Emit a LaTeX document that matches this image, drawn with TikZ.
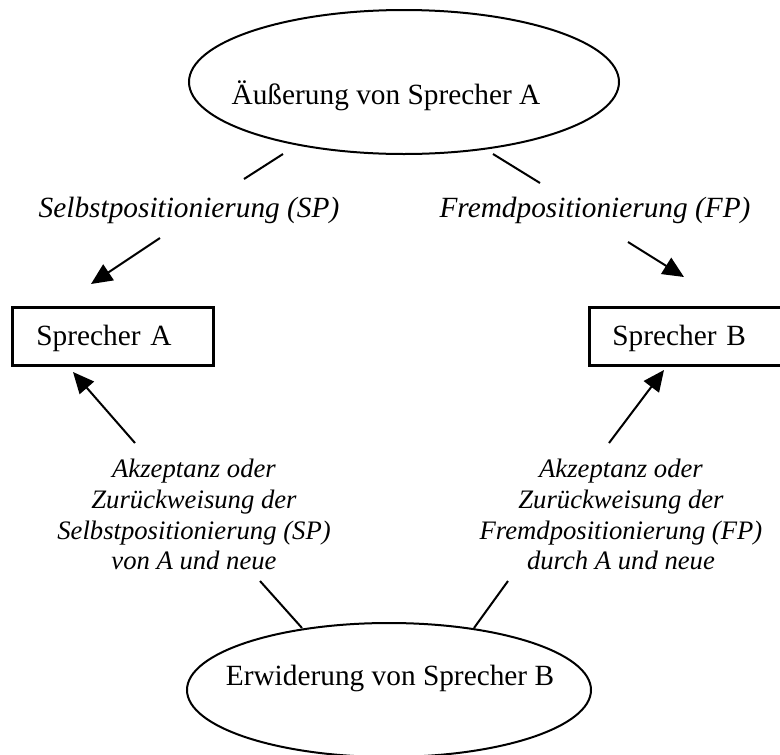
\documentclass[tikz,border=0pt]{standalone}
\usepackage{fontspec}
\setmainfont{Liberation Serif}
\usetikzlibrary{shapes.geometric,arrows.meta}

\tikzset{
	bubble/.style={draw, ellipse, line width=0.9pt, inner sep=0pt},
	speakerbox/.style={draw, line width=1.35pt, minimum width=90pt, minimum height=26.1pt,
		inner xsep=9.5pt, text width=69pt, text height=9.5pt, text depth=1.4pt, align=left},
	poslabel/.style={inner sep=0pt, font=\fontsize{13.2}{15.2}\selectfont\itshape},
	acclabel/.style={inner sep=0pt, align=center, font=\fontsize{12}{13.8}\selectfont\itshape},
	link/.style={line width=0.9pt},
	pointer/.style={line width=0.9pt, -{Triangle[length=9.5pt,width=8.5pt]}}
}

\begin{document}
\begin{tikzpicture}[x=0.45pt, y=-0.45pt, font=\fontsize{13.2}{15.2}\selectfont]
		%%%%% START %%%%%
		
		\useasboundingbox (0, 0) rectangle (780, 755);
		\clip (0, 0) rectangle (780, 755);
		
		% the two utterances
		\node[bubble, minimum width=193.5pt, minimum height=64.8pt] (utter) at (404, 82) {};
		\node[anchor=base, inner sep=0pt] (uttertext) at (386, 104) {Äußerung von Sprecher A};
		\node[bubble, minimum width=181.8pt, minimum height=60.3pt] (reply) at (389, 690) {};
		\node[anchor=base, inner sep=0pt] (replytext) at (390, 685) {Erwiderung von Sprecher B};
		
		% the speakers
		\node[speakerbox] (spka) at (113, 336) {Sprecher A};
		\node[speakerbox] (spkb) at (689, 336) {Sprecher B};
		
		% positioning labels
		\node[poslabel, anchor=base] (sp) at (189, 217) {Selbstpositionierung (SP)};
		\node[poslabel, anchor=base] (fp) at (595, 217) {Fremdpositionierung (FP)};
		\node[acclabel, anchor=north] (accsp) at (194, 459)
			{Akzeptanz oder\\Zurückweisung der\\Selbstpositionierung (SP)\\von A und neue};
		\node[acclabel, anchor=north] (accfp) at (621, 459)
			{Akzeptanz oder\\Zurückweisung der\\Fremdpositionierung (FP)\\durch A und neue};
		
		% loose ends of the connectors
		\coordinate (utter-sp) at (283, 154);
		\coordinate (sp-in) at (244, 179);
		\coordinate (utter-fp) at (493, 154);
		\coordinate (fp-in) at (540, 183);
		\coordinate (sp-out) at (160, 238);
		\coordinate (spka-in) at (91, 284);
		\coordinate (fp-out) at (628, 242);
		\coordinate (spkb-in) at (684, 277);
		\coordinate (accsp-out) at (135, 443);
		\coordinate (spka-low) at (73, 372);
		\coordinate (accfp-out) at (609, 443);
		\coordinate (spkb-low) at (664, 370);
		\coordinate (reply-sp) at (302, 628);
		\coordinate (accsp-in) at (260, 581);
		\coordinate (reply-fp) at (474, 628);
		\coordinate (accfp-in) at (508, 581);
		
		\draw[link] (utter-sp) -- (sp-in);
		\draw[link] (utter-fp) -- (fp-in);
		\draw[pointer] (sp-out) -- (spka-in);
		\draw[pointer] (fp-out) -- (spkb-in);
		
		\draw[pointer] (accsp-out) -- (spka-low);
		\draw[pointer] (accfp-out) -- (spkb-low);
		\draw[link] (reply-sp) -- (accsp-in);
		\draw[link] (reply-fp) -- (accfp-in);
		
		%%%%% END %%%%%
	\end{tikzpicture}
\end{document}
